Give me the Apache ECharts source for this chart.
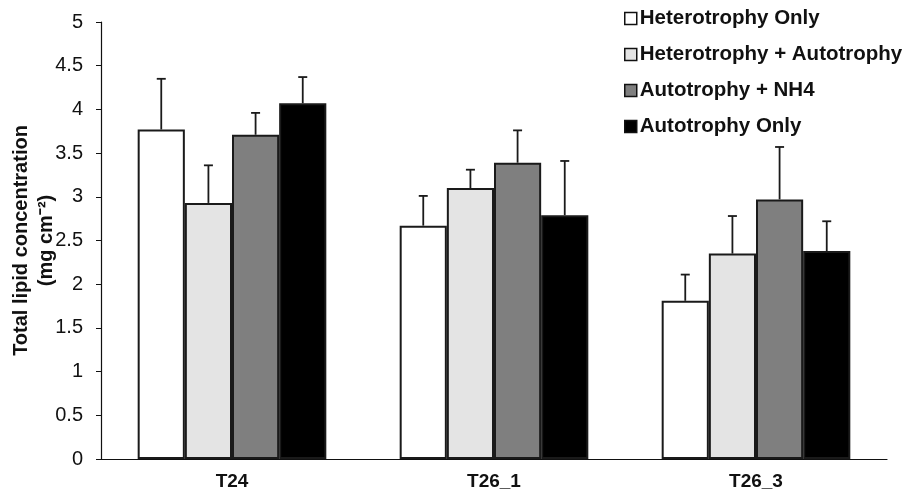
<!DOCTYPE html>
<html>
<head>
<meta charset="utf-8">
<script src="https://cdn.jsdelivr.net/npm/echarts@6/dist/echarts.min.js"></script>
<style>
  html, body { margin: 0; padding: 0; background: #fff; }
  #show_picture { width: 906px; height: 494px; }
</style>
</head>
<body>
<div id="show_picture"></div>
<script>
// values
const categories = ['T24', 'T26_1', 'T26_3'];
const seriesNames = ['Heterotrophy Only', 'Heterotrophy + Autotrophy', 'Autotrophy + NH4', 'Autotrophy Only'];
const heteroOnly = [3.77, 2.67, 1.81];
const heteroAuto = [2.93, 3.10, 2.35];
const autoNH4 = [3.71, 3.39, 2.97];
const autoOnly = [4.07, 2.79, 2.38];
// upper error (sd)
const heteroOnlyErr = [0.58, 0.34, 0.30];
const heteroAutoErr = [0.43, 0.21, 0.43];
const autoNH4Err = [0.25, 0.37, 0.60];
const autoOnlyErr = [0.30, 0.62, 0.34];

const colors = ['#ffffff', '#e4e4e4', '#7f7f7f', '#000000'];
const values = [heteroOnly, heteroAuto, autoNH4, autoOnly];
const errs = [heteroOnlyErr, heteroAutoErr, autoNH4Err, autoOnlyErr];

const FONT = '"Liberation Sans", Arial, sans-serif';
const GAP = 0.28;

let myChart = echarts.init(document.getElementById('show_picture'));

let series = [];
values.forEach((v, i) => {
    series.push({
        name: seriesNames[i],
        type: 'bar',
        data: v,
        barGap: 0,
        barCategoryGap: (GAP * 100) + '%',
        itemStyle: { color: colors[i], borderColor: '#1a1a1a', borderWidth: 2 },
        emphasis: { disabled: true }
    });
});
values.forEach((v, i) => {
    series.push({
        type: 'custom',
        silent: true,
        z: 3,
        data: v.map((m, j) => [j, m, m + errs[i][j]]),
        renderItem: (params, api) => {
            let catW = api.size([1, 0])[0];
            let barW = catW * (1 - GAP) / 4;
            let base = api.coord([api.value(0), api.value(1)]);
            let top = api.coord([api.value(0), api.value(2)]);
            let x = base[0] - catW * (1 - GAP) / 2 + barW * (i + 0.5);
            let style = { stroke: '#1a1a1a', lineWidth: 1.8 };
            return {
                type: 'group',
                children: [
                    { type: 'line', shape: { x1: x, y1: base[1], x2: x, y2: top[1] }, style: style },
                    { type: 'line', shape: { x1: x - 4.5, y1: top[1], x2: x + 4.5, y2: top[1] }, style: style }
                ]
            };
        }
    });
});

let option = {
    animation: false,
    backgroundColor: '#fff',
    grid: { left: 101, right: 19, top: 22, bottom: 35, outerBoundsMode: 'none', containLabel: false },
    legend: {
        data: seriesNames,
        orient: 'vertical',
        left: 619,
        top: 3,
        itemGap: 15,
        itemWidth: 12,
        itemHeight: 12,
        icon: 'rect',
        itemStyle: { borderColor: '#111', borderWidth: 1.5 },
        textStyle: { fontFamily: FONT, fontWeight: 'bold', fontSize: 20.5, color: '#111', padding: [0, 0, 0, -2] },
        selectedMode: false
    },
    xAxis: {
        type: 'category',
        data: categories,
        axisLine: { lineStyle: { color: '#111', width: 1.2 } },
        axisTick: { length: 6, lineStyle: { color: '#111' } },
        axisLabel: { fontFamily: FONT, fontWeight: 'bold', fontSize: 19, color: '#111', margin: 13 }
    },
    yAxis: {
        type: 'value',
        min: 0,
        max: 5,
        interval: 0.5,
        name: 'Total lipid concentration\n(mg cm\u207B\u00B2)',
        nameLocation: 'middle',
        nameGap: 42,
        nameMoveOverlap: false,
        nameTextStyle: { fontFamily: FONT, fontWeight: 'bold', fontSize: 20, color: '#111', lineHeight: 25 },
        splitLine: { show: false },
        axisLine: { show: true, lineStyle: { color: '#111', width: 1.2 } },
        axisTick: { show: true, length: 5, lineStyle: { color: '#111' } },
        axisLabel: { fontFamily: FONT, fontSize: 20, color: '#111', margin: 18 }
    },
    series: series
};

option && myChart.setOption(option);
</script>
</body>
</html>
